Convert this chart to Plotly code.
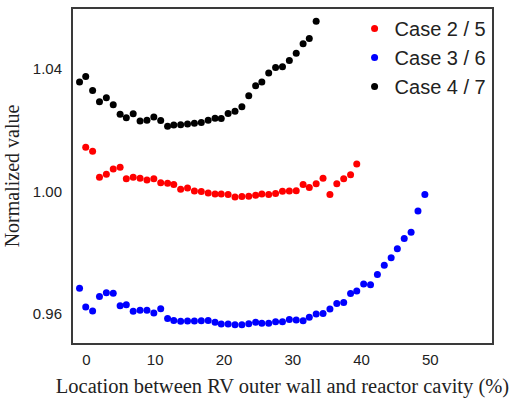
import plotly.graph_objects as go

# Sampling locations (%) shared by the three cases
location = [-1.0, -0.1, 0.9, 1.9, 2.9, 3.9, 4.9, 5.8, 6.8, 7.8, 8.8, 9.8,
            10.8, 11.8, 12.7, 13.7, 14.7, 15.7, 16.7, 17.7, 18.7, 19.6,
            20.6, 21.6, 22.6, 23.6, 24.6, 25.5, 26.5, 27.5, 28.5, 29.5,
            30.5, 31.5, 32.4, 33.4, 34.4, 35.4, 36.4, 37.4, 38.4, 39.3,
            40.3, 41.3, 42.3, 43.3, 44.3, 45.2, 46.2, 47.2, 48.2, 49.2]

case_2_5 = [1.0144, 1.0131, 1.0046, 1.0056, 1.0073, 1.0079, 1.0041, 1.0046,
            1.0043, 1.0037, 1.0041, 1.0028, 1.0026, 1.0022, 1.0007, 1.0011,
            1.0001, 0.9999, 0.9994, 0.9991, 0.9991, 0.9989, 0.9981, 0.9983,
            0.9984, 0.9987, 0.9991, 0.9989, 0.9993, 1.0000, 1.0001, 1.0002,
            1.0022, 1.0012, 1.0025, 1.0043, 0.9989, 1.0025, 1.0041, 1.0054,
            1.0089]

case_3_6 = [0.9682, 0.9621, 0.9608, 0.9655, 0.9668, 0.9666, 0.9625, 0.9628,
            0.9607, 0.9610, 0.9610, 0.9601, 0.9615, 0.9583, 0.9577, 0.9574,
            0.9575, 0.9575, 0.9576, 0.9577, 0.9571, 0.9565, 0.9565, 0.9563,
            0.9563, 0.9566, 0.9571, 0.9568, 0.9568, 0.9573, 0.9573, 0.9580,
            0.9578, 0.9576, 0.9587, 0.9598, 0.9600, 0.9614, 0.9632, 0.9636,
            0.9665, 0.9673, 0.9696, 0.9694, 0.9727, 0.9758, 0.9782, 0.9812,
            0.9845, 0.9866, 0.9935, 0.9989]

case_4_7 = [1.0358, 1.0376, 1.0330, 1.0293, 1.0306, 1.0283, 1.0252, 1.0241,
            1.0254, 1.0230, 1.0233, 1.0243, 1.0232, 1.0213, 1.0217, 1.0218,
            1.0220, 1.0223, 1.0225, 1.0233, 1.0239, 1.0238, 1.0255, 1.0262,
            1.0277, 1.0313, 1.0346, 1.0358, 1.0387, 1.0405, 1.0408, 1.0428,
            1.0452, 1.0483, 1.0500, 1.0557]

x_ticks = [0, 10, 20, 30, 40, 50]
y_ticks = [0.96, 1.00, 1.04]
y_tick_text = ["0.96", "1.00", "1.04"]

series = [
    ("Case 2 / 5", location[1:1 + len(case_2_5)], case_2_5, "#ff0000"),
    ("Case 3 / 6", location[:len(case_3_6)], case_3_6, "#0000ff"),
    ("Case 4 / 7", location[:len(case_4_7)], case_4_7, "#000000"),
]

fig = go.Figure()
for name, xs, ys, color in series:
    fig.add_trace(go.Scatter(
        x=xs, y=ys, mode="markers", name=name,
        marker=dict(color=color, size=7, line=dict(width=0)),
    ))

sans = "Liberation Sans, Arial, sans-serif"
serif = "Liberation Serif, Times New Roman, serif"
ink = "#222222"

fig.update_layout(
    width=513, height=401,
    margin=dict(l=73, r=21, t=7, b=58),
    paper_bgcolor="white", plot_bgcolor="white",
    font=dict(family=sans, size=15, color=ink),
    showlegend=True,
    legend=dict(
        x=0.672, y=1.0, xanchor="left", yanchor="top",
        bgcolor="rgba(0,0,0,0)", font=dict(family=sans, size=20, color=ink),
        itemsizing="trace", tracegroupgap=0,
    ),
    xaxis=dict(
        range=[-1.95, 58.96], tickvals=x_ticks, ticks="",
        showgrid=False, zeroline=False,
        showline=True, mirror=True, linecolor="#3a3a3a", linewidth=2,
        tickfont=dict(family=sans, size=15, color=ink),
        ticklabelstandoff=2,
        title=dict(text="Location between RV outer wall and reactor cavity (%)",
                   font=dict(family=serif, size=20.5, color=ink), standoff=12),
    ),
    yaxis=dict(
        range=[0.9503, 1.0597], tickvals=y_ticks, ticktext=y_tick_text, ticks="",
        showgrid=False, zeroline=False,
        showline=True, mirror=True, linecolor="#3a3a3a", linewidth=2,
        tickfont=dict(family=sans, size=15, color=ink),
        ticklabelstandoff=6,
        title=dict(text="Normalized value",
                   font=dict(family=serif, size=20, color=ink), standoff=8),
    ),
)

fig.write_html("out.html")
